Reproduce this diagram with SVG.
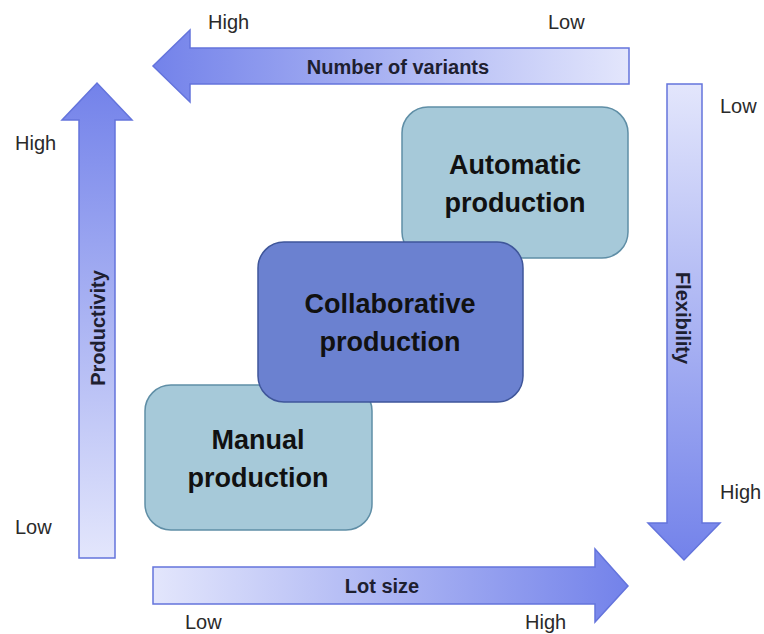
<svg xmlns="http://www.w3.org/2000/svg" width="764" height="634" viewBox="0 0 764 634">
  <defs>
    <linearGradient id="gLeft" x1="0" y1="0" x2="1" y2="0">
      <stop offset="0" stop-color="#7382ea"/>
      <stop offset="1" stop-color="#e3e6fc"/>
    </linearGradient>
    <linearGradient id="gRight" x1="0" y1="0" x2="1" y2="0">
      <stop offset="0" stop-color="#e3e6fc"/>
      <stop offset="1" stop-color="#7382ea"/>
    </linearGradient>
    <linearGradient id="gUp" x1="0" y1="0" x2="0" y2="1">
      <stop offset="0" stop-color="#7382ea"/>
      <stop offset="1" stop-color="#e3e6fc"/>
    </linearGradient>
    <linearGradient id="gDown" x1="0" y1="0" x2="0" y2="1">
      <stop offset="0" stop-color="#e3e6fc"/>
      <stop offset="1" stop-color="#7382ea"/>
    </linearGradient>
  </defs>
  <style>
    .arrow { stroke: #6474dc; stroke-width: 1.5; stroke-linejoin: miter; }
    .axis { font-family: "Liberation Sans", Arial, sans-serif; font-weight: bold; font-size: 20px; fill: #1e2030; text-anchor: middle; dominant-baseline: central; }
    .tick { font-family: "Liberation Sans", Arial, sans-serif; font-size: 20px; fill: #2a2a2a; }
    .box-light { fill: #a6c9d9; stroke: #5f8ea6; stroke-width: 1.5; }
    .box-mid { fill: #6b81d0; stroke: #3f569a; stroke-width: 1.5; }
    .label { font-family: "Liberation Sans", Arial, sans-serif; font-weight: bold; font-size: 27px; fill: #111; text-anchor: middle; }
  </style>

  <!-- axis arrows -->
  <g id="connectors">
    <g id="arrow-variants">
      <path class="arrow" fill="url(#gLeft)" d="M629,48 L190,48 L190,30 L153,66 L190,102 L190,84 L629,84 Z"/>
      <text class="axis" x="398" y="67">Number of variants</text>
    </g>
    <g id="arrow-productivity">
      <path class="arrow" fill="url(#gUp)" d="M79,558 L79,120 L62,120 L97,83 L132,120 L115,120 L115,558 Z"/>
      <text class="axis" transform="translate(98,328) rotate(-90)">Productivity</text>
    </g>
    <g id="arrow-flexibility">
      <path class="arrow" fill="url(#gDown)" d="M667,84 L667,523 L648,523 L684,560 L720,523 L702,523 L702,84 Z"/>
      <text class="axis" transform="translate(683,318) rotate(90)">Flexibility</text>
    </g>
    <g id="arrow-lotsize">
      <path class="arrow" fill="url(#gRight)" d="M153,567 L595,567 L595,549 L628,586 L595,622 L595,604 L153,604 Z"/>
      <text class="axis" x="382" y="586">Lot size</text>
    </g>
  </g>

  <!-- scale labels -->
  <g id="scale-labels">
    <text class="tick" x="208" y="29">High</text>
    <text class="tick" x="548" y="29">Low</text>
    <text class="tick" x="15" y="150">High</text>
    <text class="tick" x="15" y="534">Low</text>
    <text class="tick" x="720" y="113">Low</text>
    <text class="tick" x="720" y="499">High</text>
    <text class="tick" x="185" y="629">Low</text>
    <text class="tick" x="525" y="629">High</text>
  </g>

  <!-- production modes -->
  <g id="automatic">
    <rect class="box-light" x="402" y="107" width="226" height="151" rx="26"/>
    <text class="label" x="515" y="174">Automatic</text>
    <text class="label" x="515" y="212">production</text>
  </g>
  <g id="manual">
    <rect class="box-light" x="145" y="385" width="227" height="145" rx="26"/>
    <text class="label" x="258" y="449">Manual</text>
    <text class="label" x="258" y="487">production</text>
  </g>
  <g id="collaborative">
    <rect class="box-mid" x="258" y="242" width="265" height="160" rx="26"/>
    <text class="label" x="390" y="313">Collaborative</text>
    <text class="label" x="390" y="351">production</text>
  </g>
</svg>
